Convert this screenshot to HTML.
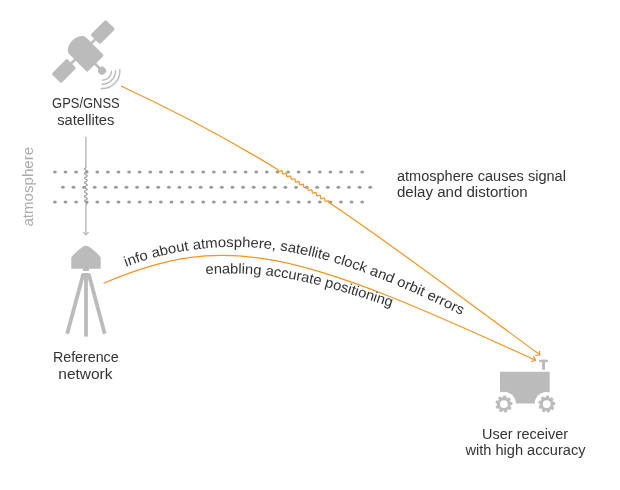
<!DOCTYPE html>
<html><head><meta charset="utf-8">
<style>
html,body{margin:0;padding:0;background:#fff;width:620px;height:490px;overflow:hidden}
svg{display:block;will-change:transform}
text{font-family:"Liberation Sans",sans-serif}
</style></head>
<body>
<svg width="620" height="490" viewBox="0 0 620 490">
<!-- satellite -->
<g fill="#bbbbbb">
 <g transform="translate(83.26,51.44) rotate(-45)">
  <rect x="16.7" y="-6.7" width="21.6" height="13.5" rx="1.6"/>
  <rect x="-38.3" y="-6.7" width="21.6" height="13.5" rx="1.6"/>
  <rect x="-18" y="-1.25" width="36" height="2.5"/>
  <path d="M-11.9,15.9 L-11.9,-7.4 C-11.9,-11.8 -6.6,-15.4 0,-15.4 C6.6,-15.4 11.9,-11.8 11.9,-7.4 L11.9,15.9 Q11.9,17.4 10.4,17.4 L-10.4,17.4 Q-11.9,17.4 -11.9,15.9 Z"/>
  <rect x="-1.64" y="16" width="2.6" height="9"/>
  <circle cx="-0.34" cy="26.91" r="4"/>
 </g>
</g>
<g fill="none" stroke="#bbbbbb" stroke-width="1.4">
 <path d="M111.6,70.7 A9.6,9.6 0 0 1 102,80.3"/>
 <path d="M115.6,70.2 A13.6,13.6 0 0 1 101.5,84.3"/>
 <path d="M119.8,69 A17.8,17.8 0 0 1 100.6,88.5"/>
</g>
<text x="85.9" y="108" font-size="14" fill="#333333" text-anchor="middle" textLength="67.7" lengthAdjust="spacingAndGlyphs">GPS/GNSS</text>
<text x="85.8" y="124.7" font-size="14" fill="#333333" text-anchor="middle" textLength="57.1" lengthAdjust="spacingAndGlyphs">satellites</text>

<!-- vertical line -->
<path d="M85.9,136.7 V168" stroke="#bbbbbb" stroke-width="1.5" fill="none"/>
<path d="M85.9,204 V234.5" stroke="#bbbbbb" stroke-width="1.5" fill="none"/>
<path d="M83.2,232 L85.9,234.8 L88.6,232" stroke="#bbbbbb" stroke-width="1.2" fill="none"/>
<path d="M85.9,167.8 L85.56,167.98 L85.25,168.17 L84.98,168.35 L84.76,168.53 L84.62,168.71 L84.55,168.9 L84.57,169.08 L84.68,169.26 L84.86,169.44 L85.11,169.62 L85.4,169.81 L85.73,169.99 L86.07,170.17 L86.4,170.36 L86.69,170.54 L86.94,170.72 L87.12,170.9 L87.23,171.09 L87.25,171.27 L87.18,171.45 L87.04,171.63 L86.82,171.81 L86.55,172 L86.24,172.18 L85.9,172.36 L85.56,172.55 L85.25,172.73 L84.98,172.91 L84.76,173.09 L84.62,173.28 L84.55,173.46 L84.57,173.64 L84.68,173.82 L84.86,174.01 L85.11,174.19 L85.4,174.37 L85.73,174.55 L86.07,174.74 L86.4,174.92 L86.69,175.1 L86.94,175.28 L87.12,175.47 L87.23,175.65 L87.25,175.83 L87.18,176.01 L87.04,176.2 L86.82,176.38 L86.55,176.56 L86.24,176.74 L85.9,176.93 L85.56,177.11 L85.25,177.29 L84.98,177.47 L84.76,177.66 L84.62,177.84 L84.55,178.02 L84.57,178.2 L84.68,178.39 L84.86,178.57 L85.11,178.75 L85.4,178.93 L85.73,179.12 L86.07,179.3 L86.4,179.48 L86.69,179.66 L86.94,179.84 L87.12,180.03 L87.23,180.21 L87.25,180.39 L87.18,180.58 L87.04,180.76 L86.82,180.94 L86.55,181.12 L86.24,181.31 L85.9,181.49 L85.56,181.67 L85.25,181.85 L84.98,182.04 L84.76,182.22 L84.62,182.4 L84.55,182.58 L84.57,182.77 L84.68,182.95 L84.86,183.13 L85.11,183.31 L85.4,183.5 L85.73,183.68 L86.07,183.86 L86.4,184.04 L86.69,184.23 L86.94,184.41 L87.12,184.59 L87.23,184.77 L87.25,184.96 L87.18,185.14 L87.04,185.32 L86.82,185.5 L86.55,185.69 L86.24,185.87 L85.9,186.05 L85.56,186.23 L85.25,186.42 L84.98,186.6 L84.76,186.78 L84.62,186.96 L84.55,187.15 L84.57,187.33 L84.68,187.51 L84.86,187.69 L85.11,187.88 L85.4,188.06 L85.73,188.24 L86.07,188.42 L86.4,188.61 L86.69,188.79 L86.94,188.97 L87.12,189.15 L87.23,189.34 L87.25,189.52 L87.18,189.7 L87.04,189.88 L86.82,190.06 L86.55,190.25 L86.24,190.43 L85.9,190.61 L85.56,190.8 L85.25,190.98 L84.98,191.16 L84.76,191.34 L84.62,191.53 L84.55,191.71 L84.57,191.89 L84.68,192.07 L84.86,192.25 L85.11,192.44 L85.4,192.62 L85.73,192.8 L86.07,192.99 L86.4,193.17 L86.69,193.35 L86.94,193.53 L87.12,193.72 L87.23,193.9 L87.25,194.08 L87.18,194.26 L87.04,194.45 L86.82,194.63 L86.55,194.81 L86.24,194.99 L85.9,195.18 L85.56,195.36 L85.25,195.54 L84.98,195.72 L84.76,195.91 L84.62,196.09 L84.55,196.27 L84.57,196.45 L84.68,196.64 L84.86,196.82 L85.11,197 L85.4,197.18 L85.73,197.37 L86.07,197.55 L86.4,197.73 L86.69,197.91 L86.94,198.1 L87.12,198.28 L87.23,198.46 L87.25,198.64 L87.18,198.83 L87.04,199.01 L86.82,199.19 L86.55,199.37 L86.24,199.56 L85.9,199.74 L85.56,199.92 L85.25,200.1 L84.98,200.29 L84.76,200.47 L84.62,200.65 L84.55,200.83 L84.57,201.02 L84.68,201.2 L84.86,201.38 L85.11,201.56 L85.4,201.75 L85.73,201.93 L86.07,202.11 L86.4,202.29 L86.69,202.48 L86.94,202.66 L87.12,202.84 L87.23,203.02 L87.25,203.21 L87.18,203.39 L87.04,203.57 L86.82,203.75 L86.55,203.94 L86.24,204.12 L85.9,204.3" stroke="#949494" stroke-width="1.1" fill="none"/>

<!-- dots -->
<g fill="#9a9a9a">
<ellipse cx="54.9" cy="172" rx="1.9" ry="1.5"/>
<ellipse cx="65.5" cy="172" rx="1.9" ry="1.5"/>
<ellipse cx="76.09" cy="172" rx="1.9" ry="1.5"/>
<ellipse cx="86.69" cy="172" rx="1.9" ry="1.5"/>
<ellipse cx="97.29" cy="172" rx="1.9" ry="1.5"/>
<ellipse cx="107.88" cy="172" rx="1.9" ry="1.5"/>
<ellipse cx="118.48" cy="172" rx="1.9" ry="1.5"/>
<ellipse cx="129.08" cy="172" rx="1.9" ry="1.5"/>
<ellipse cx="139.68" cy="172" rx="1.9" ry="1.5"/>
<ellipse cx="150.27" cy="172" rx="1.9" ry="1.5"/>
<ellipse cx="160.87" cy="172" rx="1.9" ry="1.5"/>
<ellipse cx="171.47" cy="172" rx="1.9" ry="1.5"/>
<ellipse cx="182.06" cy="172" rx="1.9" ry="1.5"/>
<ellipse cx="192.66" cy="172" rx="1.9" ry="1.5"/>
<ellipse cx="203.26" cy="172" rx="1.9" ry="1.5"/>
<ellipse cx="213.85" cy="172" rx="1.9" ry="1.5"/>
<ellipse cx="224.45" cy="172" rx="1.9" ry="1.5"/>
<ellipse cx="235.05" cy="172" rx="1.9" ry="1.5"/>
<ellipse cx="245.65" cy="172" rx="1.9" ry="1.5"/>
<ellipse cx="256.24" cy="172" rx="1.9" ry="1.5"/>
<ellipse cx="266.84" cy="172" rx="1.9" ry="1.5"/>
<ellipse cx="277.44" cy="172" rx="1.9" ry="1.5"/>
<ellipse cx="288.03" cy="172" rx="1.9" ry="1.5"/>
<ellipse cx="298.63" cy="172" rx="1.9" ry="1.5"/>
<ellipse cx="309.23" cy="172" rx="1.9" ry="1.5"/>
<ellipse cx="319.82" cy="172" rx="1.9" ry="1.5"/>
<ellipse cx="330.42" cy="172" rx="1.9" ry="1.5"/>
<ellipse cx="341.02" cy="172" rx="1.9" ry="1.5"/>
<ellipse cx="351.62" cy="172" rx="1.9" ry="1.5"/>
<ellipse cx="362.21" cy="172" rx="1.9" ry="1.5"/>
<ellipse cx="62.9" cy="187.3" rx="1.9" ry="1.5"/>
<ellipse cx="73.5" cy="187.3" rx="1.9" ry="1.5"/>
<ellipse cx="84.09" cy="187.3" rx="1.9" ry="1.5"/>
<ellipse cx="94.69" cy="187.3" rx="1.9" ry="1.5"/>
<ellipse cx="105.29" cy="187.3" rx="1.9" ry="1.5"/>
<ellipse cx="115.88" cy="187.3" rx="1.9" ry="1.5"/>
<ellipse cx="126.48" cy="187.3" rx="1.9" ry="1.5"/>
<ellipse cx="137.08" cy="187.3" rx="1.9" ry="1.5"/>
<ellipse cx="147.68" cy="187.3" rx="1.9" ry="1.5"/>
<ellipse cx="158.27" cy="187.3" rx="1.9" ry="1.5"/>
<ellipse cx="168.87" cy="187.3" rx="1.9" ry="1.5"/>
<ellipse cx="179.47" cy="187.3" rx="1.9" ry="1.5"/>
<ellipse cx="190.06" cy="187.3" rx="1.9" ry="1.5"/>
<ellipse cx="200.66" cy="187.3" rx="1.9" ry="1.5"/>
<ellipse cx="211.26" cy="187.3" rx="1.9" ry="1.5"/>
<ellipse cx="221.85" cy="187.3" rx="1.9" ry="1.5"/>
<ellipse cx="232.45" cy="187.3" rx="1.9" ry="1.5"/>
<ellipse cx="243.05" cy="187.3" rx="1.9" ry="1.5"/>
<ellipse cx="253.65" cy="187.3" rx="1.9" ry="1.5"/>
<ellipse cx="264.24" cy="187.3" rx="1.9" ry="1.5"/>
<ellipse cx="274.84" cy="187.3" rx="1.9" ry="1.5"/>
<ellipse cx="285.44" cy="187.3" rx="1.9" ry="1.5"/>
<ellipse cx="296.03" cy="187.3" rx="1.9" ry="1.5"/>
<ellipse cx="306.63" cy="187.3" rx="1.9" ry="1.5"/>
<ellipse cx="317.23" cy="187.3" rx="1.9" ry="1.5"/>
<ellipse cx="327.82" cy="187.3" rx="1.9" ry="1.5"/>
<ellipse cx="338.42" cy="187.3" rx="1.9" ry="1.5"/>
<ellipse cx="349.02" cy="187.3" rx="1.9" ry="1.5"/>
<ellipse cx="359.62" cy="187.3" rx="1.9" ry="1.5"/>
<ellipse cx="370.21" cy="187.3" rx="1.9" ry="1.5"/>
<ellipse cx="54.9" cy="202" rx="1.9" ry="1.5"/>
<ellipse cx="65.5" cy="202" rx="1.9" ry="1.5"/>
<ellipse cx="76.09" cy="202" rx="1.9" ry="1.5"/>
<ellipse cx="86.69" cy="202" rx="1.9" ry="1.5"/>
<ellipse cx="97.29" cy="202" rx="1.9" ry="1.5"/>
<ellipse cx="107.88" cy="202" rx="1.9" ry="1.5"/>
<ellipse cx="118.48" cy="202" rx="1.9" ry="1.5"/>
<ellipse cx="129.08" cy="202" rx="1.9" ry="1.5"/>
<ellipse cx="139.68" cy="202" rx="1.9" ry="1.5"/>
<ellipse cx="150.27" cy="202" rx="1.9" ry="1.5"/>
<ellipse cx="160.87" cy="202" rx="1.9" ry="1.5"/>
<ellipse cx="171.47" cy="202" rx="1.9" ry="1.5"/>
<ellipse cx="182.06" cy="202" rx="1.9" ry="1.5"/>
<ellipse cx="192.66" cy="202" rx="1.9" ry="1.5"/>
<ellipse cx="203.26" cy="202" rx="1.9" ry="1.5"/>
<ellipse cx="213.85" cy="202" rx="1.9" ry="1.5"/>
<ellipse cx="224.45" cy="202" rx="1.9" ry="1.5"/>
<ellipse cx="235.05" cy="202" rx="1.9" ry="1.5"/>
<ellipse cx="245.65" cy="202" rx="1.9" ry="1.5"/>
<ellipse cx="256.24" cy="202" rx="1.9" ry="1.5"/>
<ellipse cx="266.84" cy="202" rx="1.9" ry="1.5"/>
<ellipse cx="277.44" cy="202" rx="1.9" ry="1.5"/>
<ellipse cx="288.03" cy="202" rx="1.9" ry="1.5"/>
<ellipse cx="298.63" cy="202" rx="1.9" ry="1.5"/>
<ellipse cx="309.23" cy="202" rx="1.9" ry="1.5"/>
<ellipse cx="319.82" cy="202" rx="1.9" ry="1.5"/>
<ellipse cx="330.42" cy="202" rx="1.9" ry="1.5"/>
<ellipse cx="341.02" cy="202" rx="1.9" ry="1.5"/>
<ellipse cx="351.62" cy="202" rx="1.9" ry="1.5"/>
<ellipse cx="362.21" cy="202" rx="1.9" ry="1.5"/>
</g>

<text transform="translate(32.5,226.6) rotate(-90)" font-size="14" fill="#aaaaaa" textLength="79.7" lengthAdjust="spacingAndGlyphs">atmosphere</text>

<text x="396.9" y="180.7" font-size="14" fill="#333333" textLength="169" lengthAdjust="spacingAndGlyphs">atmosphere causes signal</text>
<text x="396.9" y="197" font-size="14" fill="#333333" textLength="130.8" lengthAdjust="spacingAndGlyphs">delay and distortion</text>

<!-- reference station -->
<g fill="#bbbbbb">
 <path d="M71.3,268.8 V257.8 Q71.5,257 72.3,256.1 C76,252 80,248.6 83.2,246.6 Q85.9,245.1 88.6,246.6 C92,248.6 96,252 99.7,256.1 Q100.5,257 100.7,257.8 V268.8 Z"/>
 <rect x="83" y="268" width="6" height="3"/>
 <path d="M81.2,276 L81.9,273.6 Q82.2,272.9 83,272.9 H88.6 Q89.4,272.9 89.7,273.6 L90.4,276 Z"/>
</g>
<g stroke="#bbbbbb" stroke-width="3.8" fill="none">
 <path d="M86,273 V336.6"/>
 <path d="M83.3,274 L67.2,333.8"/>
 <path d="M88.7,274 L104.7,333.8"/>
</g>
<text x="85.8" y="361.7" font-size="14" fill="#333333" text-anchor="middle" textLength="65.7" lengthAdjust="spacingAndGlyphs">Reference</text>
<text x="85.4" y="378.5" font-size="14" fill="#333333" text-anchor="middle" textLength="54.2" lengthAdjust="spacingAndGlyphs">network</text>

<!-- receiver -->
<g fill="#bbbbbb">
 <path d="M500,371.7 H549.7 V392.5 A12,12 0 0 0 534.5,403.6 H516 A12,12 0 0 0 500,392.5 Z"/>
 <ellipse cx="543.5" cy="361" rx="4.8" ry="1.4"/>
 <rect x="542.1" y="361" width="2.9" height="8.7"/>
</g>
<g fill="#bbbbbb"><circle cx="503.9" cy="404.1" r="7"/><rect x="502.4" y="395.6" width="3" height="2.5" rx="0.5" transform="rotate(6 503.9 404.1)"/><rect x="502.4" y="395.6" width="3" height="2.5" rx="0.5" transform="rotate(46 503.9 404.1)"/><rect x="502.4" y="395.6" width="3" height="2.5" rx="0.5" transform="rotate(86 503.9 404.1)"/><rect x="502.4" y="395.6" width="3" height="2.5" rx="0.5" transform="rotate(126 503.9 404.1)"/><rect x="502.4" y="395.6" width="3" height="2.5" rx="0.5" transform="rotate(166 503.9 404.1)"/><rect x="502.4" y="395.6" width="3" height="2.5" rx="0.5" transform="rotate(206 503.9 404.1)"/><rect x="502.4" y="395.6" width="3" height="2.5" rx="0.5" transform="rotate(246 503.9 404.1)"/><rect x="502.4" y="395.6" width="3" height="2.5" rx="0.5" transform="rotate(286 503.9 404.1)"/><rect x="502.4" y="395.6" width="3" height="2.5" rx="0.5" transform="rotate(326 503.9 404.1)"/></g><circle cx="503.9" cy="404.1" r="3.9" fill="#fff"/><g fill="#bbbbbb"><circle cx="546.7" cy="404.1" r="7"/><rect x="545.2" y="395.6" width="3" height="2.5" rx="0.5" transform="rotate(6 546.7 404.1)"/><rect x="545.2" y="395.6" width="3" height="2.5" rx="0.5" transform="rotate(46 546.7 404.1)"/><rect x="545.2" y="395.6" width="3" height="2.5" rx="0.5" transform="rotate(86 546.7 404.1)"/><rect x="545.2" y="395.6" width="3" height="2.5" rx="0.5" transform="rotate(126 546.7 404.1)"/><rect x="545.2" y="395.6" width="3" height="2.5" rx="0.5" transform="rotate(166 546.7 404.1)"/><rect x="545.2" y="395.6" width="3" height="2.5" rx="0.5" transform="rotate(206 546.7 404.1)"/><rect x="545.2" y="395.6" width="3" height="2.5" rx="0.5" transform="rotate(246 546.7 404.1)"/><rect x="545.2" y="395.6" width="3" height="2.5" rx="0.5" transform="rotate(286 546.7 404.1)"/><rect x="545.2" y="395.6" width="3" height="2.5" rx="0.5" transform="rotate(326 546.7 404.1)"/></g><circle cx="546.7" cy="404.1" r="3.9" fill="#fff"/>
<text x="525.1" y="438.7" font-size="14" fill="#333333" text-anchor="middle" textLength="86" lengthAdjust="spacingAndGlyphs">User receiver</text>
<text x="525.5" y="455.3" font-size="14" fill="#333333" text-anchor="middle" textLength="120.1" lengthAdjust="spacingAndGlyphs">with high accuracy</text>

<!-- orange lines -->
<g fill="none" stroke="#f7931e" stroke-width="1.2">
 <path id="satline" d="M121,86 C181.8,114.17 231.75,141.28 277.98,169.7 L277.98,169.7 L278.01,169.95 L278.04,170.2 L278.08,170.43 L278.12,170.64 L278.19,170.83 L278.27,171 L278.36,171.13 L278.48,171.24 L278.61,171.31 L278.77,171.35 L278.95,171.36 L279.14,171.34 L279.34,171.3 L279.56,171.23 L279.79,171.16 L280.03,171.07 L280.26,170.98 L280.49,170.89 L280.72,170.82 L280.94,170.75 L281.15,170.71 L281.34,170.7 L281.51,170.71 L281.67,170.75 L281.8,170.82 L281.91,170.93 L282.01,171.07 L282.09,171.24 L282.15,171.43 L282.19,171.64 L282.23,171.88 L282.26,172.12 L282.29,172.37 L282.31,172.62 L282.34,172.86 L282.38,173.09 L282.43,173.31 L282.49,173.5 L282.57,173.66 L282.66,173.8 L282.78,173.9 L282.92,173.97 L283.07,174.01 L283.25,174.02 L283.44,174 L283.65,173.96 L283.87,173.89 L284.09,173.82 L284.33,173.73 L284.56,173.64 L284.8,173.56 L285.02,173.48 L285.24,173.42 L285.45,173.38 L285.64,173.36 L285.81,173.38 L285.96,173.42 L286.1,173.49 L286.21,173.6 L286.31,173.74 L286.38,173.9 L286.44,174.1 L286.49,174.31 L286.53,174.54 L286.55,174.79 L286.58,175.03 L286.6,175.28 L286.63,175.53 L286.67,175.76 L286.72,175.97 L286.78,176.16 L286.85,176.33 L286.95,176.46 L287.06,176.57 L287.2,176.64 L287.35,176.68 L287.53,176.69 L287.72,176.68 L287.92,176.63 L288.14,176.57 L288.37,176.5 L288.6,176.41 L288.84,176.33 L289.07,176.24 L289.3,176.17 L289.52,176.1 L289.72,176.06 L289.91,176.05 L290.09,176.06 L290.24,176.1 L290.38,176.17 L290.49,176.27 L290.59,176.41 L290.67,176.57 L290.73,176.76 L290.77,176.97 L290.81,177.2 L290.84,177.45 L290.86,177.69 L290.89,177.94 L290.91,178.19 L290.95,178.42 L290.99,178.63 L291.05,178.83 L291.12,179 L291.22,179.13 L291.33,179.24 L291.46,179.32 L291.61,179.37 L291.78,179.38 L291.97,179.37 L292.17,179.33 L292.39,179.27 L292.62,179.2 L292.85,179.12 L293.08,179.03 L293.32,178.95 L293.55,178.87 L293.76,178.81 L293.97,178.76 L294.17,178.74 L294.34,178.75 L294.5,178.79 L294.64,178.85 L294.76,178.95 L294.85,179.08 L294.93,179.24 L295,179.43 L295.04,179.64 L295.08,179.86 L295.11,180.1 L295.13,180.35 L295.16,180.6 L295.18,180.84 L295.21,181.08 L295.25,181.3 L295.31,181.49 L295.38,181.67 L295.47,181.81 L295.58,181.93 L295.7,182.01 L295.85,182.06 L296.02,182.08 L296.2,182.08 L296.4,182.04 L296.62,181.99 L296.84,181.92 L297.07,181.84 L297.31,181.76 L297.54,181.67 L297.77,181.59 L297.99,181.53 L298.2,181.48 L298.4,181.46 L298.58,181.46 L298.74,181.49 L298.88,181.55 L299,181.64 L299.11,181.76 L299.19,181.92 L299.25,182.1 L299.3,182.3 L299.34,182.52 L299.37,182.76 L299.39,183.01 L299.42,183.26 L299.44,183.5 L299.47,183.74 L299.51,183.96 L299.56,184.16 L299.62,184.34 L299.71,184.49 L299.81,184.62 L299.93,184.71 L300.07,184.77 L300.23,184.8 L300.41,184.8 L300.61,184.77 L300.82,184.72 L301.04,184.66 L301.27,184.58 L301.51,184.5 L301.74,184.42 L301.97,184.34 L302.2,184.27 L302.41,184.22 L302.61,184.19 L302.8,184.18 L302.96,184.2 L303.11,184.25 L303.23,184.34 L303.34,184.45 L303.43,184.6 L303.5,184.77 L303.55,184.97 L303.59,185.19 L303.62,185.42 L303.65,185.67 L303.67,185.91 L303.69,186.16 L303.72,186.4 L303.75,186.63 L303.8,186.84 L303.86,187.02 L303.93,187.18 L304.03,187.31 L304.15,187.41 L304.28,187.48 L304.44,187.52 L304.61,187.53 L304.8,187.51 L305.01,187.47 L305.23,187.41 L305.46,187.34 L305.69,187.26 L305.92,187.18 L306.16,187.1 L306.38,187.02 L306.6,186.97 L306.8,186.93 L306.99,186.92 L307.17,186.93 L307.32,186.98 L307.45,187.05 L307.56,187.16 L307.66,187.29 L307.73,187.46 L307.79,187.65 L307.83,187.86 L307.86,188.09 L307.89,188.33 L307.91,188.57 L307.93,188.82 L307.95,189.07 L307.98,189.3 L308.03,189.51 L308.08,189.71 L308.15,189.88 L308.24,190.02 L308.35,190.13 L308.48,190.21 L308.63,190.26 L308.79,190.28 L308.98,190.27 L309.18,190.24 L309.4,190.18 L309.62,190.11 L309.85,190.04 L310.09,189.95 L310.32,189.87 L310.55,189.8 L310.77,189.74 L310.98,189.69 L311.18,189.67 L311.35,189.68 L311.51,189.71 L311.65,189.77 L311.77,189.87 L311.87,189.99 L311.95,190.15 L312.01,190.33 L312.06,190.54 L312.1,190.76 L312.12,191 L312.14,191.24 L312.16,191.49 L312.18,191.74 L312.21,191.97 L312.25,192.19 L312.3,192.39 L312.36,192.57 L312.44,192.73 L312.54,192.85 L312.66,192.94 L312.8,193 L312.97,193.03 L313.14,193.03 L313.34,193.01 L313.55,192.96 L313.77,192.9 L314,192.83 L314.24,192.75 L314.47,192.66 L314.7,192.59 L314.93,192.52 L315.14,192.47 L315.34,192.44 L315.53,192.44 L315.69,192.46 L315.84,192.51 L315.96,192.6 L316.07,192.71 L316.16,192.86 L316.23,193.03 L316.28,193.22 L316.32,193.44 L316.35,193.67 L316.37,193.92 L316.39,194.17 L316.4,194.41 L316.43,194.65 L316.46,194.88 L316.5,195.09 L316.56,195.28 L316.64,195.44 L316.73,195.57 L316.84,195.68 L316.97,195.75 L317.13,195.79 L317.3,195.81 L317.49,195.79 L317.7,195.76 L317.91,195.7 L318.14,195.63 L318.37,195.55 L318.61,195.47 L318.84,195.39 L319.07,195.32 L319.29,195.27 L319.49,195.23 L319.68,195.21 L319.86,195.23 L320.01,195.27 L320.15,195.34 L320.26,195.44 L320.35,195.58 L320.43,195.74 L320.49,195.93 L320.53,196.14 L320.56,196.36 L320.58,196.6 L320.6,196.85 L320.62,197.1 L320.64,197.34 L320.67,197.57 L320.7,197.79 L320.76,197.99 L320.82,198.16 L320.91,198.31 L321.01,198.42 L321.14,198.51 L321.28,198.56 L321.45,198.59 L321.63,198.59 L321.83,198.56 L322.04,198.51 L322.27,198.45 L322.5,198.37 L322.73,198.29 L322.97,198.21 L323.2,198.14 L323.42,198.08 L323.63,198.03 L323.83,198.01 L324.01,198.01 L324.17,198.04 L324.31,198.1 L324.44,198.19 L324.54,198.31 L324.62,198.47 L324.68,198.64 L324.73,198.84 L324.76,199.07 L324.79,199.3 L324.81,199.55 L324.83,199.79 L324.84,200.04 L324.87,200.28 L324.9,200.5 L324.95,200.71 L325.01,200.89 L325.08,201.05 L325.18,201.18 L325.3,201.27 L325.43,201.34 L325.59,201.38 L325.77,201.39 L325.96,201.37 L326.17,201.33 L326.39,201.27 L326.62,201.2 L326.85,201.12 L327.09,201.04 L327.32,200.97 L327.55,200.9 L327.76,200.85 L327.97,200.82 L328.15,200.81 L328.32,200.83 L328.47,200.88 L328.6,200.96 L328.71,201.07 L328.8,201.21 L328.87,201.38 L328.92,201.57 L328.96,201.78 L328.99,202.01 L329.01,202.26 L329.03,202.5 L329.03,202.5 C394.1,246.05 456.96,294.33 540,354.8"/>
 <path d="M539.5,350.7 L539.7,355 L535.3,355.3"/>
 <path id="refcurve" d="M103.6,283.3 C226.4,230.88 295.25,249.67 535.5,360.3"/>
 <path d="M533.3,356.1 L535.6,360.1 L531,361.7"/>
</g>
<path id="uppath" d="M116.06,270.6 C253.06,215.41 364.54,264.72 503.49,336.4" fill="none"/>
<path id="lopath" d="M204.58,274.46 C284.01,268.06 342.1,292.05 406.05,311.46" fill="none"/>
<text font-size="14.2" fill="#333333"><textPath href="#uppath" startOffset="10.6" textLength="350" lengthAdjust="spacingAndGlyphs">info about atmosphere, satellite clock and orbit errors</textPath></text>
<text font-size="14.2" fill="#333333"><textPath href="#lopath" startOffset="1" textLength="190" lengthAdjust="spacingAndGlyphs">enabling accurate positioning</textPath></text>
</svg>
</body></html>
